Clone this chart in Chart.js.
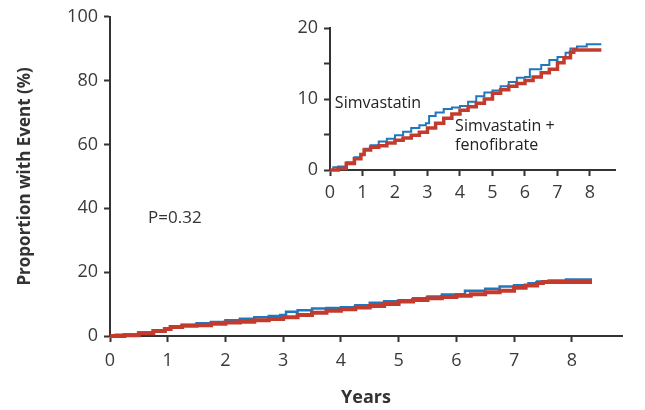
<!DOCTYPE html>
<html>
<head>
<meta charset="utf-8">
<script src="https://cdn.jsdelivr.net/npm/chart.js@4"></script>
<style>
	body { margin: 0; background: #fff; }
	#wrap { position: relative; width: 645px; height: 410px; }
	#main { position: absolute; left: 0; top: 0; }
	#inset { position: absolute; left: 280px; top: 0; }
</style>
</head>
<body>
<div id="wrap">
	<canvas id="main" width="645" height="410"></canvas>
	<canvas id="inset" width="345" height="200"></canvas>
</div>
<script>
// Kaplan-Meier style curves (years, % with event)
const simvaYears = [0, 0.1, 0.25, 0.5, 0.75, 0.95, 1.05, 1.25, 1.5, 1.75, 2.0, 2.25, 2.5, 2.75, 2.95, 3.05, 3.25, 3.5, 3.75, 4.0, 4.25, 4.5, 4.75, 5.0, 5.25, 5.5, 5.75, 6.0, 6.15, 6.5, 6.75, 7.0, 7.25, 7.4, 7.6, 7.9, 8.35];
const simvaPct = [0, 0.4, 0.5, 1.1, 1.8, 2.2, 3.0, 3.5, 4.0, 4.4, 4.9, 5.4, 5.9, 6.3, 6.6, 7.6, 8.1, 8.6, 8.8, 9.0, 9.6, 10.4, 10.9, 11.2, 11.8, 12.4, 13.0, 13.1, 14.2, 14.8, 15.5, 15.9, 16.5, 17.1, 17.4, 17.7, 17.7];

const fenoYears = [0, 0.25, 0.5, 0.75, 0.95, 1.05, 1.25, 1.5, 1.75, 2.0, 2.25, 2.5, 2.75, 3.0, 3.25, 3.5, 3.75, 4.0, 4.25, 4.5, 4.75, 5.0, 5.25, 5.5, 5.75, 6.0, 6.25, 6.5, 6.75, 7.0, 7.2, 7.4, 7.5, 8.35];
const fenoPct = [0, 0.2, 0.9, 1.6, 2.2, 2.8, 3.2, 3.4, 3.8, 4.2, 4.5, 4.9, 5.3, 5.9, 6.6, 7.3, 7.9, 8.4, 8.9, 9.4, 10.0, 10.8, 11.3, 11.8, 12.2, 12.6, 13.1, 13.7, 14.2, 15.1, 15.8, 16.6, 16.9, 16.9];

const xTicks = [0, 1, 2, 3, 4, 5, 6, 7, 8];
const mainYTicks = [0, 20, 40, 60, 80, 100];
const insetYTicks = [0, 5, 10, 15, 20];
const insetYLabels = ['0', '', '10', '', '20'];

const BLUE = '#1f78be';
const RED = '#c33b2c';
const INK = '#3a3a3a';
const FONT = "'Open Sans', sans-serif";

function toPoints(xs, ys) {
	return xs.map((x, i) => ({ x: x, y: ys[i] }));
}

function curves(redWidth, blueWidth) {
	return [
		{
			label: 'Simvastatin + fenofibrate',
			data: toPoints(fenoYears, fenoPct),
			borderColor: RED,
			borderWidth: redWidth,
			stepped: true,
			pointRadius: 0,
			clip: 6,
		},
		{
			label: 'Simvastatin',
			data: toPoints(simvaYears, simvaPct),
			borderColor: BLUE,
			borderWidth: blueWidth,
			stepped: true,
			pointRadius: 0,
			clip: 6,
		},
	];
}

// text placed at data coordinates
function labelsPlugin(items) {
	return {
		id: 'labels',
		afterDraw(chart) {
			const ctx = chart.ctx;
			const xs = chart.scales.x;
			const ys = chart.scales.y;
			ctx.save();
			items.forEach((it) => {
				ctx.font = it.font;
				ctx.fillStyle = it.color || '#222';
				ctx.textAlign = 'left';
				ctx.textBaseline = 'middle';
				ctx.fillText(it.text, xs.getPixelForValue(it.x), ys.getPixelForValue(it.y));
			});
			ctx.restore();
		},
	};
}

function axisOptions(opts) {
	return {
		type: 'linear',
		min: opts.min,
		max: opts.max,
		afterBuildTicks: (s) => {
			s.ticks = opts.ticks.map((v) => ({ value: v }));
		},
		afterFit: (s) => {
			if (s.isHorizontal()) s.height = opts.size;
			else s.width = opts.size;
		},
		border: { display: true, color: '#333', width: 2 },
		grid: {
			drawOnChartArea: false,
			drawTicks: true,
			tickLength: 6,
			tickColor: '#333',
			tickWidth: 2,
		},
		ticks: {
			color: INK,
			padding: opts.pad,
			font: { family: FONT, size: 18 },
			maxRotation: 0,
			autoSkip: false,
			callback: opts.callback || ((v) => v),
		},
		title: opts.title || { display: false },
	};
}

new Chart(document.getElementById('main').getContext('2d'), {
	type: 'line',
	data: { datasets: curves(4, 2.5) },
	options: {
		responsive: false,
		animation: false,
		devicePixelRatio: 1,
		layout: { padding: { left: 0, top: 15, right: 23, bottom: 0 } },
		plugins: { legend: { display: false }, tooltip: { enabled: false } },
		scales: {
			x: axisOptions({
				min: 0, max: 8.87, ticks: xTicks, size: 74, pad: 8,
				title: {
					display: true,
					text: 'Years',
					color: '#333',
					font: { family: FONT, size: 18, weight: 'bold' },
					padding: { top: 0, bottom: 1 },
				},
			}),
			y: axisOptions({
				min: 0, max: 100, ticks: mainYTicks, size: 110, pad: 6,
				title: {
					display: true,
					text: 'Proportion with Event (%)',
					color: '#333',
					font: { family: FONT, size: 17, weight: 'bold' },
					padding: { top: 15, bottom: 0 },
				},
			}),
		},
	},
	plugins: [labelsPlugin([
		{ text: 'P=0.32', x: 0.66, y: 36.8, font: `17px ${FONT}`, color: '#333' },
	])],
});

new Chart(document.getElementById('inset').getContext('2d'), {
	type: 'line',
	data: { datasets: curves(3.5, 2) },
	options: {
		responsive: false,
		animation: false,
		devicePixelRatio: 1,
		layout: { padding: { left: 0, top: 28, right: 10, bottom: 0 } },
		plugins: { legend: { display: false }, tooltip: { enabled: false } },
		scales: {
			x: axisOptions({ min: 0, max: 8.77, ticks: xTicks, size: 30, pad: 6 }),
			y: axisOptions({
				min: 0, max: 20, ticks: insetYTicks, size: 50, pad: 6,
				callback: (v) => insetYLabels[insetYTicks.indexOf(v)],
			}),
		},
	},
	plugins: [labelsPlugin([
		{ text: 'Simvastatin', x: 0.15, y: 9.4, font: `16px ${FONT}` },
		{ text: 'Simvastatin +', x: 3.85, y: 6.2, font: `16px ${FONT}` },
		{ text: 'fenofibrate', x: 3.85, y: 3.4, font: `16px ${FONT}` },
	])],
});
</script>
</body>
</html>
